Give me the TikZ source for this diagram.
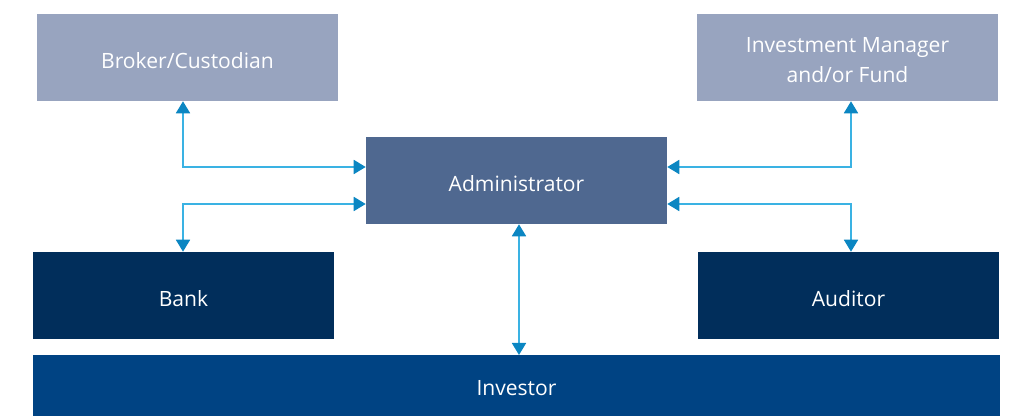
\documentclass[tikz,border=0pt]{standalone}
\usepackage{fontspec}
\setmainfont{Open Sans}
\usetikzlibrary{arrows.meta}
\definecolor{paleblue}{HTML}{98A4BF}
\definecolor{midblue}{HTML}{4F6890}
\definecolor{navy}{HTML}{012E5B}
\definecolor{royal}{HTML}{004383}
\definecolor{linkline}{HTML}{3AB2E3}
\definecolor{linktip}{HTML}{0B86C2}
\tikzset{
  boxtext/.style={text=white, font=\fontsize{15.8}{23}\selectfont, align=center, yshift=-2pt},
  box/.style={rectangle, inner sep=0pt, minimum width=301*0.75pt, minimum height=87*0.75pt},
  link/.style={draw=linkline, line width=1.3pt,
    {Triangle[width=10.5pt,length=9pt,color=linktip]}-{Triangle[width=10.5pt,length=9pt,color=linktip]}}
}
\begin{document}
\begin{tikzpicture}[x=0.75pt,y=-0.75pt]
\useasboundingbox (0,0) rectangle (1010,416);
\node[box, fill=paleblue, label={[boxtext]center:Broker/Custodian}] (broker) at (187.5,57.5) {};
\node[box, fill=paleblue, label={[boxtext]center:{Investment Manager\\and/or Fund}}] (manager) at (847.5,57.5) {};
\node[box, fill=midblue, label={[boxtext]center:Administrator}] (admin) at (516.5,180.5) {};
\node[box, fill=navy, label={[boxtext]center:Bank}] (bank) at (183.5,295.5) {};
\node[box, fill=navy, label={[boxtext]center:Auditor}] (auditor) at (848.5,295.5) {};
\fill[royal] (33,355) rectangle (1000,416);
\node[boxtext, yshift=2pt] (investor) at (516.5,388) {Investor};
\coordinate (investortop) at (519,355);
% routing levels and columns
\coordinate (rowa) at (0,167);
\coordinate (rowb) at (0,204);
\coordinate (colL) at (183,0);
\coordinate (colR) at (851,0);
\coordinate (colM) at (519,0);
\draw[link] (broker.south -| colL) |- (admin.west |- rowa);
\draw[link] (bank.north -| colL) |- (admin.west |- rowb);
\draw[link] (manager.south -| colR) |- (admin.east |- rowa);
\draw[link] (auditor.north -| colR) |- (admin.east |- rowb);
\draw[link] (admin.south -| colM) -- (investortop);
\end{tikzpicture}
\end{document}
